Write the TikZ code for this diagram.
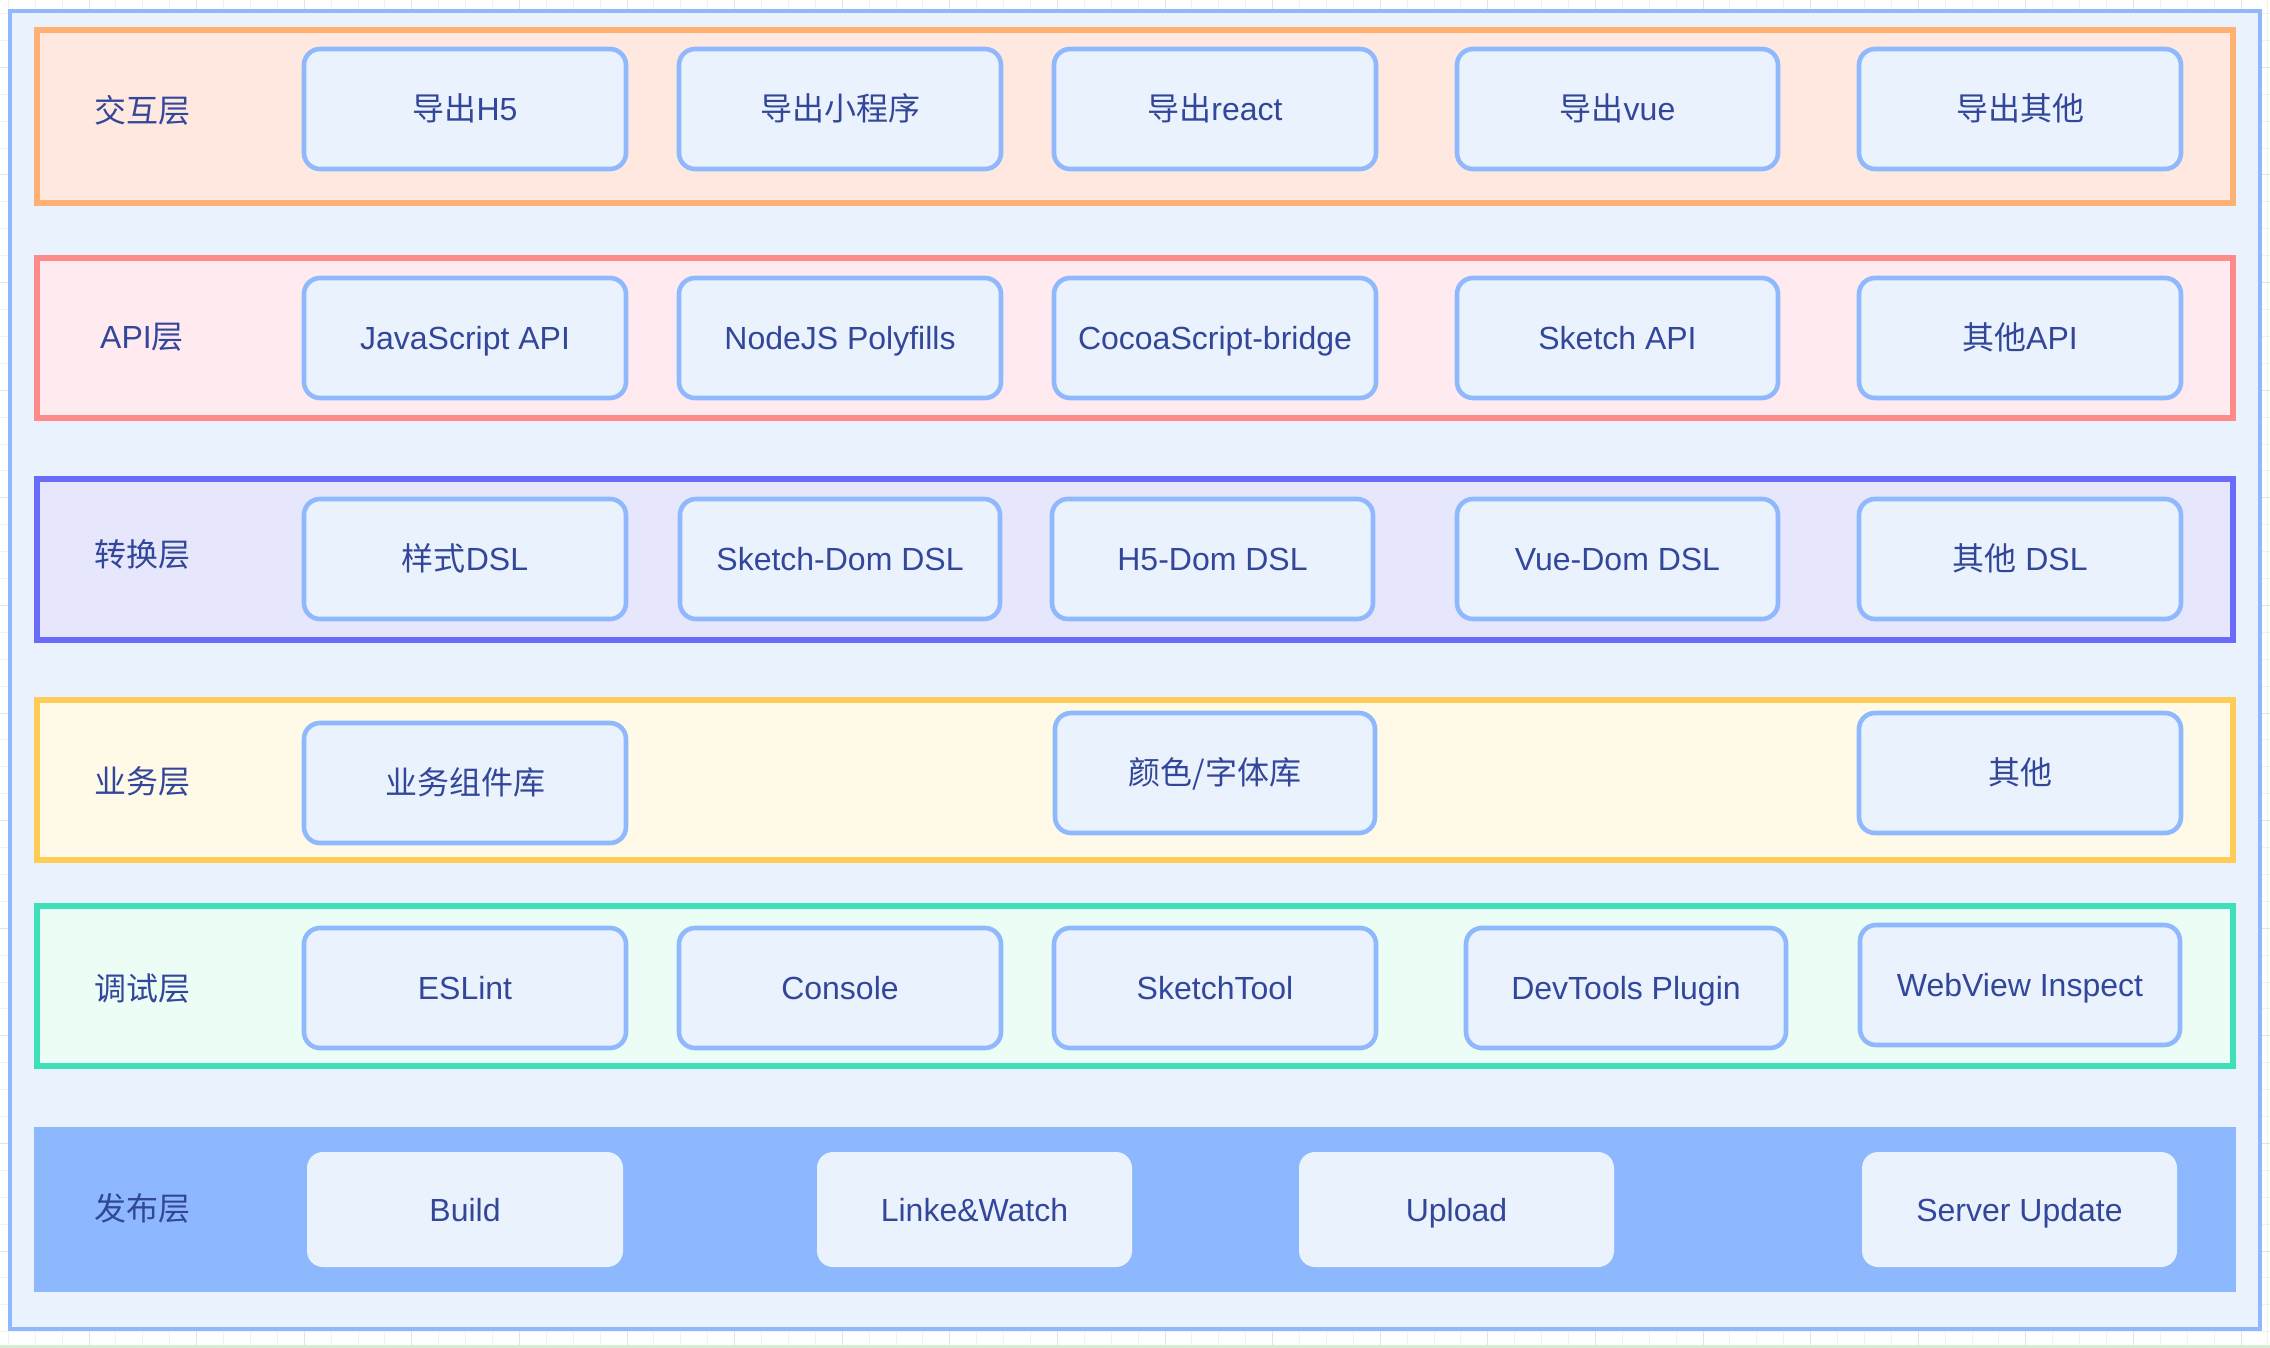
\documentclass[tikz,border=0pt]{standalone}
\usepackage{fontspec}
\setmainfont{Liberation Sans}
\newfontfamily\zhfont{Noto Sans CJK SC}
\newcommand\zh[1]{{\zhfont #1}}
\definecolor{framestroke}{HTML}{8FB9FC}
\definecolor{framefill}{HTML}{EAF2FE}
\definecolor{txt}{HTML}{33479A}
\definecolor{orS}{HTML}{FFB073}
\definecolor{orF}{HTML}{FFE8DF}
\definecolor{rdS}{HTML}{FF8A8A}
\definecolor{rdF}{HTML}{FFEBEF}
\definecolor{puS}{HTML}{6B6BFA}
\definecolor{puF}{HTML}{E6E6FD}
\definecolor{yeS}{HTML}{FFCC55}
\definecolor{yeF}{HTML}{FFF9E8}
\definecolor{grS}{HTML}{3DE0B8}
\definecolor{grF}{HTML}{EBFDF5}
\definecolor{blF}{HTML}{8EB8FD}
\definecolor{gridminor}{HTML}{F1F1F1}
\definecolor{gridmajor}{HTML}{E3E3E3}
\definecolor{bottomline}{HTML}{D8EBD5}
\newcommand\mkbox[7]{%
  \pgfmathsetmacro\bw{(#5-#3)*0.5}%
  \pgfmathsetmacro\bh{(#6-#4)*0.5}%
  \node[#1, minimum width=\bw pt, minimum height=\bh pt] (#2) at ({(#3+#5)/2},{(#4+#6)/2}) {#7};}
\tikzset{
  txtstyle/.style={text=txt, inner sep=0pt, font=\fontsize{16pt}{19pt}\selectfont,
    text height=11.6pt, text depth=0pt},
  item/.style={txtstyle, draw=framestroke, fill=framefill, line width=2.3pt, rounded corners=8pt},
  pubitem/.style={txtstyle, fill=framefill, rounded corners=8pt},
  layerlabel/.style={txtstyle},
  layerbox/.style={line width=2.6pt},
}
\begin{document}
\begin{tikzpicture}[x=0.5pt,y=-0.5pt]
\useasboundingbox (0,0) rectangle (2270,1348);
\fill[white] (0,0) rectangle (2270,1348);
% grid
\foreach \i in {-3,...,84} {
  \draw[gridminor, line width=0.5pt] ({89+26.9*\i},0) -- ({89+26.9*\i},1348);
}
\foreach \i in {-7,...,50} {
  \draw[gridminor, line width=0.5pt] (0,{175+26.9*\i}) -- (2270,{175+26.9*\i});
}
\foreach \i in {-1,...,21} {
  \draw[gridmajor, line width=0.5pt] ({89+107.6*\i},0) -- ({89+107.6*\i},1348);
}
\foreach \i in {-2,...,12} {
  \draw[gridmajor, line width=0.5pt] (0,{175+107.6*\i}) -- (2270,{175+107.6*\i});
}
\draw[bottomline, line width=1.5pt] (0,1346.5) -- (2270,1346.5);
% outer frame
\draw[framestroke, fill=framefill, line width=2.2pt] (10,11) rectangle (2260,1329);
% layers
\draw[layerbox, draw=orS, fill=orF] (37,30) rectangle (2233,203);
\draw[layerbox, draw=rdS, fill=rdF] (37,258) rectangle (2233,418);
\draw[layerbox, draw=puS, fill=puF] (37,479) rectangle (2233,640);
\draw[layerbox, draw=yeS, fill=yeF] (37,700) rectangle (2233,860);
\draw[layerbox, draw=grS, fill=grF] (37,906) rectangle (2233,1066);
\fill[blF] (34,1127) rectangle (2236,1292);
% labels
\node[layerlabel] (l1) at (142,111) {\zh{交互层}};
\node[layerlabel] (l2) at (142,337) {API\zh{层}};
\node[layerlabel] (l3) at (142,555) {\zh{转换层}};
\node[layerlabel] (l4) at (142,782) {\zh{业务层}};
\node[layerlabel] (l5) at (142,989) {\zh{调试层}};
\node[layerlabel] (l6) at (142,1209) {\zh{发布层}};
% row 1
\mkbox{item}{a1}{304}{49}{626}{169}{\zh{导出}H5}
\mkbox{item}{a2}{679}{49}{1001}{169}{\zh{导出小程序}}
\mkbox{item}{a3}{1054}{49}{1376}{169}{\zh{导出}react}
\mkbox{item}{a4}{1457}{49}{1778}{169}{\zh{导出}vue}
\mkbox{item}{a5}{1859}{49}{2181}{169}{\zh{导出其他}}
% row 2
\mkbox{item}{b1}{304}{278}{626}{398}{JavaScript API}
\mkbox{item}{b2}{679}{278}{1001}{398}{NodeJS Polyfills}
\mkbox{item}{b3}{1054}{278}{1376}{398}{CocoaScript-bridge}
\mkbox{item}{b4}{1457}{278}{1778}{398}{Sketch API}
\mkbox{item}{b5}{1859}{278}{2181}{398}{\zh{其他}API}
% row 3
\mkbox{item}{c1}{304}{499}{626}{619}{\zh{样式}DSL}
\mkbox{item}{c2}{680}{499}{1000}{619}{Sketch-Dom DSL}
\mkbox{item}{c3}{1052}{499}{1373}{619}{H5-Dom DSL}
\mkbox{item}{c4}{1457}{499}{1778}{619}{Vue-Dom DSL}
\mkbox{item}{c5}{1859}{499}{2181}{619}{\zh{其他} DSL}
% row 4
\mkbox{item}{d1}{304}{723}{626}{843}{\zh{业务组件库}}
\mkbox{item}{d2}{1055}{713}{1375}{833}{\zh{颜色/字体库}}
\mkbox{item}{d3}{1859}{713}{2181}{833}{\zh{其他}}
% row 5
\mkbox{item}{e1}{304}{928}{626}{1048}{ESLint}
\mkbox{item}{e2}{679}{928}{1001}{1048}{Console}
\mkbox{item}{e3}{1054}{928}{1376}{1048}{SketchTool}
\mkbox{item}{e4}{1466}{928}{1786}{1048}{DevTools Plugin}
\mkbox{item}{e5}{1860}{925}{2180}{1045}{WebView Inspect}
% row 6
\mkbox{pubitem}{f1}{307}{1152}{623}{1267}{Build}
\mkbox{pubitem}{f2}{817}{1152}{1132}{1267}{Linke\&Watch}
\mkbox{pubitem}{f3}{1299}{1152}{1614}{1267}{Upload}
\mkbox{pubitem}{f4}{1862}{1152}{2177}{1267}{Server Update}
\end{tikzpicture}
\end{document}
